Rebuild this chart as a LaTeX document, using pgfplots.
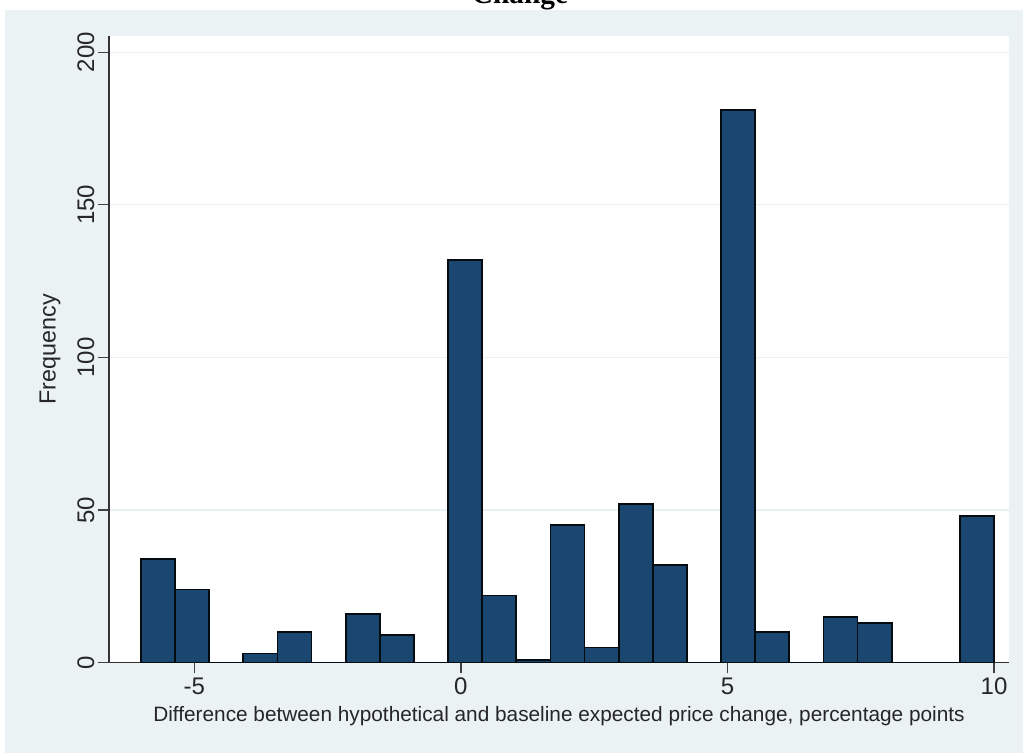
\documentclass[border=0pt]{standalone}
\usepackage{pgfplots}
\pgfplotsset{compat=1.18}
\usepackage{fontspec}
\setmainfont{Liberation Sans}
\newfontfamily\titlefont{Liberation Serif}
\definecolor{stnavy}{RGB}{26,71,111}
\definecolor{bgcol}{RGB}{234,242,243}
\definecolor{gridcol}{RGB}{232,240,242}
\pgfplotstableread{
x y
-6.00 34
-5.36 24
-4.72 0
-4.08 3
-3.44 10
-2.80 0
-2.16 16
-1.52 9
-0.88 0
-0.24 132
0.40 22
1.04 1
1.68 45
2.32 5
2.96 52
3.60 32
4.24 0
4.88 181
5.52 10
6.16 0
6.80 15
7.44 13
8.08 0
8.72 0
9.36 48
10.00 0
}\histdata
\begin{document}
\begin{tikzpicture}
\clip (0,0) rectangle (767.25pt,564.75pt);
\fill[white] (0,0) rectangle (767.25pt,564.75pt);
\fill[bgcol] (3.75pt,0) rectangle (767.25pt,557.25pt);
\node[anchor=base, inner sep=0pt, font=\titlefont\bfseries\fontsize{22}{26}\selectfont] at (390pt,561.75pt) {Change};
\begin{axis}[
  at={(81.75pt,67.725pt)}, anchor=south west,
  scale only axis, width=675pt, height=470pt,
  xmin=-6.6, xmax=10.28, ymin=0, ymax=205.3,
  axis background/.style={fill=white},
  axis x line=bottom, axis y line=left,
  axis line style={-, draw=black!80, line width=0.9pt},
  tick align=outside, major tick length=8pt,
  tick style={draw=black!75, line width=0.9pt},
  xtick={-5,0,5,10}, xticklabels={-5,0,5,10},
  ytick={0,50,100,150,200}, yticklabels={0,50,100,150,200},
  ymajorgrids, grid style={gridcol, line width=0.9pt},
  ticklabel style={font=\fontsize{18}{20}\selectfont, text=black!85},
  yticklabel style={rotate=90, anchor=south, yshift=-0.5pt},
  xlabel={Difference between hypothetical and baseline expected price change, percentage points},
  ylabel={Frequency},
  xlabel style={font=\fontsize{15.6}{18}\selectfont, text=black!85, at={(axis description cs:0.5,-0.085)}, anchor=center},
  ylabel style={font=\fontsize{17.5}{20}\selectfont, text=black!85, at={(axis description cs:-0.0656,0.5)}, anchor=center},
]
\addplot[ybar interval, fill=stnavy, draw=black!85!stnavy, line width=1.3pt] table[x=x, y=y] {\histdata};
\end{axis}
\end{tikzpicture}
\end{document}
